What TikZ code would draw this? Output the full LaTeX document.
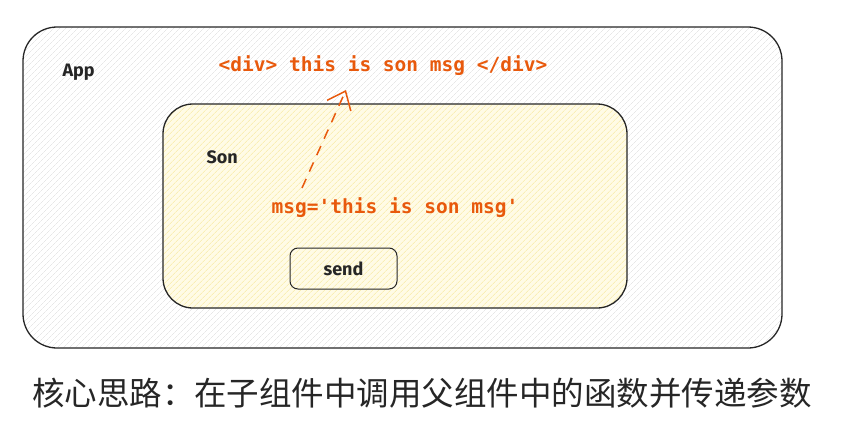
\documentclass[tikz,border=0pt]{standalone}
\usepackage{fontspec}
\setmainfont{Fira Sans}
\newfontfamily\codefont{DejaVu Sans Mono}
\newfontfamily\cjkfont{Noto Sans CJK SC}
\usetikzlibrary{arrows.meta,patterns.meta}

\definecolor{msgorange}{HTML}{E8590C}
\definecolor{sonyellow}{HTML}{FFFBE6}
\definecolor{hatchyellow}{HTML}{F7E89A}

\begin{document}
\begin{tikzpicture}[x=1pt,y=-1pt,
  box/.style={draw=black!85,line width=1.3pt},
  label/.style={font=\bfseries\fontsize{18}{18}\selectfont,text=black!85},
  code/.style={font=\codefont\bfseries\fontsize{19.5}{19.5}\selectfont,text=msgorange}]
\useasboundingbox (0,0) rectangle (852,429);
\node[box,rounded corners=34pt,minimum width=759pt,minimum height=321pt,
  preaction={fill=white},pattern={Lines[angle=45,distance=4pt,line width=0.4pt]},pattern color=black!14] (app) at (402.5,187.5) {};
\node[box,rounded corners=30pt,minimum width=464pt,minimum height=204pt,
  preaction={fill=sonyellow},pattern={Lines[angle=45,distance=4pt,line width=0.5pt]},pattern color=hatchyellow] (son) at (395,206) {};
\node[box,line width=1pt,rounded corners=8pt,minimum width=107pt,minimum height=41pt] (send) at (343.5,268.5) {};
\node[label] (sendtext) at (send) {send};
\node[label,anchor=west] (apptext) at (59,72) {App};
\node[label,anchor=west] (sontext) at (203,157) {Son};
\node[code] (div) at (383,66) {<div> this is son msg </div>};
\node[code] (msg) at (395,208) {msg='this is son msg'};
\coordinate (tail) at (302,188);
\coordinate (tip) at (346,90);
\draw[msgorange,line width=1.5pt,dash pattern=on 10pt off 8pt,-{Straight Barb[length=16pt,width=26pt]}] (tail) -- (tip);
\node[font=\cjkfont\fontsize{32.5}{32.5}\selectfont,text=black!85] (caption) at (422,393) {核心思路：在子组件中调用父组件中的函数并传递参数};
\end{tikzpicture}
\end{document}
